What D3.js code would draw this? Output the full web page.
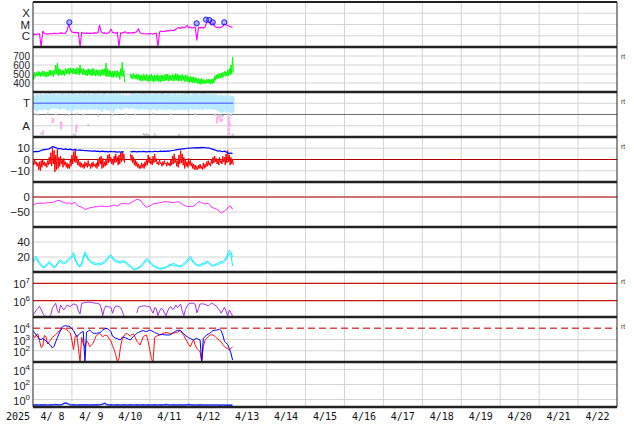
<!DOCTYPE html>
<html><head><meta charset="utf-8">
<script src="https://cdn.jsdelivr.net/npm/d3@7"></script>
<style>body{margin:0;background:#fff}svg{display:block}</style>
</head><body>
<svg id="c" width="634" height="424"></svg>
<script>
// ---------------- DATA (hourly from 4/8 00h) ----------------
const yearLabel = "2025";
const dayLabels = ["4/ 8","4/ 9","4/10","4/11","4/12","4/13","4/14","4/15","4/16","4/17","4/18","4/19","4/20","4/21","4/22"];

// Panel 1: X-ray flux (in units of 1e-6 W/m2 = C1)
const xrayTickLabels = ["X","M","C"];
const xrayTickVals = [100,10,1];
const xray = [1.3,1.4,1.3,1.4,1.5,0.1,2.6,1.6,1.5,1.4,
1.5,1.6,1.5,1.7,1.6,1.5,1.6,1.8,1.7,1.6,
1.7,3.0,11,3.5,2.2,1.9,2.0,1.8,1.9,0.1,
2.0,1.7,1.6,1.8,1.6,1.7,1.6,1.7,1.8,1.7,
1.9,9.0,2.2,1.7,1.8,1.6,1.7,1.9,4.0,2.0,
1.8,1.7,2.0,0.1,1.8,1.7,2.0,2.2,1.7,1.9,
1.7,1.9,1.8,2.0,2.4,4.2,1.8,1.6,1.5,1.5,
1.5,1.4,1.6,1.5,1.4,1.6,1.7,0.1,2.2,2.6,
2.3,2.7,2.4,2.9,2.6,3.2,2.8,3.0,3.8,4.6,
5.5,4.4,6.5,4.8,5.8,8.5,5.0,6.2,4.6,5.4,
6.0,0.4,5.5,4.8,5.8,4.6,6.0,14,24,12,
9.0,14,7.0,5.5,6.0,5.0,5.8,6.8,11,9.0,
8.0,7.0,6.2,5.4];
const flareHours = [22.4,100.9,106.7,108.7,110.8,117.9];
const flarePeak = [15.7,12.7,27,25,15.7,15.7];

// Panel 2: solar wind speed envelope (km/s)
const swTicks = [700,600,500,400];
const swHi = [500,520,515,530,525,520,535,530,520,525,
540,545,535,550,600,620,560,550,545,540,
560,555,565,570,560,565,555,570,560,600,
555,560,550,545,560,550,555,565,545,550,
545,540,550,555,560,620,555,540,535,530,
535,530,540,525,560,630,540,null,null,null,
500,495,505,490,500,495,490,485,495,490,
495,485,490,500,480,490,485,495,480,490,
485,490,500,495,490,485,495,490,505,495,
490,485,495,480,490,485,470,475,465,470,
460,455,450,445,450,440,435,440,445,440,
440,450,480,490,500,505,510,520,530,525,
540,560,600,690];
const swLo = [440,470,475,480,470,475,480,470,465,475,
480,490,470,495,500,480,490,485,490,480,
500,505,495,510,500,505,495,500,490,510,
490,495,485,480,490,485,480,490,475,485,
480,475,485,490,480,470,475,470,465,460,
470,460,470,440,480,470,410,null,null,null,
450,445,455,440,440,430,425,420,430,425,
420,415,425,420,410,425,420,415,410,420,
420,425,430,420,425,430,420,425,430,420,
425,420,430,415,420,410,405,410,400,405,
400,395,390,385,395,390,395,400,395,390,
395,400,430,445,450,455,460,470,480,475,
480,490,500,520];

// Panel 3: IMF longitude (deg)
const phiTickLabels = ["T","A"];
const phiTickVals = [270,90];
const phiHi = [330,338,344,334,346,340,336,348,342,338,
346,340,348,342,336,346,340,348,344,342,
340,348,342,336,346,348,342,338,348,344,
342,348,344,338,348,342,336,346,348,342,
346,338,348,342,346,336,342,348,338,346,
342,348,338,346,336,342,332,336,334,340,
338,346,348,342,338,348,344,340,348,344,
342,348,344,338,346,342,348,338,346,342,
346,338,342,348,344,338,342,346,336,342,
338,346,342,348,338,346,342,336,346,342,
348,342,338,346,342,348,338,346,342,338,
346,340,342,336,332,340,334,330,338,332,
334,328,332,326];
const phiLo = [222,210,205,215,220,212,218,225,215,210,
220,226,232,228,222,230,218,224,230,226,
215,210,220,206,212,218,224,214,220,216,
222,218,226,214,220,228,216,222,218,224,
212,220,200,218,224,214,210,222,216,190,
218,224,228,220,216,226,230,234,228,222,
226,232,220,224,218,214,222,226,218,224,
216,222,214,220,226,218,212,220,224,216,
222,214,218,224,216,222,210,218,214,220,
216,222,218,214,220,212,218,224,216,222,
218,224,216,220,214,222,226,218,224,220,
222,216,220,210,206,196,190,200,210,194,
198,192,188,196];
const phiGray = [[1,185],[3,180],[9,188],[14,182],[22,176],[27,186],[31,180],[40,172],[49,176],[57,184],[63,180],[74,186],[85,182],[100,184],[112,178],[114,170],[115,166],[116,172],[117,168],[120,180],[122,176],
[10,352],[18,354],[24,352],[37,354],[44,352],[61,354],[68,352],[80,354],[95,352],[105,354],
[5,28],[6,22],[25,20],[26,16],[68,24],[69,18],[70,22],[71,16],[75,20],[90,18],[121,24],[123,18],[34,96]];
const phiPink = [[6.2,42],[12.1,142],[12,120],[12.4,132],[17,114],[17.1,90],[17.3,72],[17.6,104],[26.5,72],[26.5,48],[27,88],
[113.3,152],[113.3,136],[113.3,120],[114.5,168],[115,150],[115.5,130],[116.5,140],[120.8,152],[120.8,130],[120.8,110],[120.8,90],[120.8,60],[120.8,30],[121.5,96]];

// Panel 4: IMF Bt and Bz (nT)
const bTicks = [10,0,-10];
const bt = [6.8,7.0,7.2,7.0,7.5,8.0,8.5,8.8,9.0,9.2,
9.5,10.5,11.4,11.0,10.5,10.0,9.5,9.8,9.2,9.0,
9.4,9.0,8.8,9.2,8.6,8.5,8.8,8.4,8.2,8.5,
8.0,8.2,7.8,8.0,7.6,7.8,7.5,7.4,7.6,7.2,
7.4,7.0,7.2,7.4,7.0,7.2,6.8,7.0,7.2,6.9,
7.0,6.8,6.6,6.9,6.5,6.8,6.7,null,null,null,
7.0,6.8,7.2,7.0,6.8,7.1,7.0,6.9,7.2,7.0,
6.8,7.0,7.2,6.9,7.0,7.3,7.1,7.0,7.2,7.4,
7.2,7.5,7.3,7.6,7.4,7.8,8.0,8.2,8.5,8.8,
9.0,9.2,9.5,9.4,9.8,10.0,10.2,10.0,10.4,10.2,
10.5,10.3,10.6,10.4,10.8,10.5,10.6,10.2,10.4,10.0,
9.5,9.0,8.5,8.0,7.5,7.8,7.2,7.0,7.4,6.8,
6.0,5.5,5.8,5.2];
const bzHi = [-1,0,-2,-3,-2,-1,0,-2,-3,-1,
2,6,10,8,4,9,2,3,0,1,
-2,-3,-4,0,4,7,8,3,0,-2,
-3,-4,-2,-3,-1,-4,-3,-2,-4,-3,
0,2,3,1,-2,0,4,5,2,0,
3,5,2,4,6,7,5,null,null,null,
5,4,2,0,-2,-4,-5,-3,-4,-2,
0,4,2,-1,3,5,1,-2,0,-3,
-2,-1,-3,-2,-3,0,3,5,1,-1,
4,8,5,2,0,-2,1,-1,-3,-4,
-5,-6,-5,-4,-6,-3,-4,-2,-1,-3,
0,2,3,1,0,2,-1,3,2,5,
8,4,2,0];
const bzLo = [-5,-4,-6,-9,-10,-7,-5,-6,-7,-5,
-4,-6,-4,-11,-9,-8,-6,-4,-7,-5,
-7,-8,-8,-6,-4,-2,-3,-5,-6,-7,
-7,-8,-6,-7,-6,-8,-7,-6,-7,-8,
-6,-4,-8,-7,-6,-5,-3,-2,-4,-5,
-3,-2,-5,-4,-2,-1,-3,null,null,null,
-1,-3,-5,-6,-7,-8,-8,-7,-8,-6,
-5,-3,-4,-5,-3,-2,-4,-5,-4,-6,
-5,-4,-6,-5,-6,-5,-4,-3,-6,-7,
-4,-3,-5,-8,-6,-7,-5,-6,-8,-9,
-9,-9,-8,-8,-9,-8,-7,-6,-5,-6,
-4,-3,-2,-4,-5,-3,-4,-2,-5,-3,
-2,-5,-4,-5];

// Panel 5: Dst (nT)
const dstTicks = [0,-50];
const dst = [-27,-24,-22,-21,-21,-20,-21,-20,-20,-19,
-19,-18,-18,-16,-14,-12,-11,-13,-16,-18,
-20,-21,-19,-22,-23,-20,-19,-24,-30,-32,
-34,-37,-41,-40,-38,-36,-35,-34,-33,-32,
-32,-31,-30,-31,-32,-32,-32,-31,-30,-28,
-27,-28,-30,-27,-23,-22,-21,-22,-23,-22,
-20,-17,-14,-11,-8,-9,-10,-17,-24,-30,
-34,-32,-30,-26,-23,-22,-21,-20,-19,-18,
-17,-16,-16,-16,-17,-18,-19,-18,-17,-16,
-16,-20,-24,-27,-30,-31,-32,-32,-32,-30,
-27,-22,-16,-17,-19,-21,-23,-22,-21,-27,
-34,-36,-38,-40,-43,-48,-54,-50,-47,-42,
-38,-30,-32,-41];

// Panel 6: two cyan traces
const p6Ticks = [40,20];
const cyanA = [16,19,21,16,12,10,8,7,9,12,
14,12,9,7,8,12,15,16,14,13,
14,16,18,19,22,26,18,13,10,8,
12,20,27,24,18,16,14,13,12,12,
11,12,12,13,14,16,19,22,23,20,
17,16,15,14,14,15,15,14,12,10,
9,6,4,4,5,6,8,10,12,15,
18,17,14,12,10,8,7,6,5,5,
6,6,7,8,10,10,11,11,10,9,
8,8,10,12,13,16,19,21,17,14,
12,10,9,10,11,12,13,14,14,12,
10,9,10,11,12,13,14,14,16,19,
24,29,27,20];
const cyanB = [13,16,18,14,10,8,6,6,7,10,
12,10,7,6,7,10,13,14,12,11,
12,13,15,17,19,22,16,11,8,7,
10,17,24,21,16,14,12,11,10,10,
9,10,10,11,12,14,17,20,20,18,
15,14,13,12,12,13,13,12,10,8,
7,5,3,3,4,5,6,8,10,13,
15,15,12,10,8,7,6,5,4,4,
5,5,6,7,8,9,9,9,8,8,
7,7,8,10,11,13,16,18,15,12,
10,9,8,8,9,10,11,12,12,10,
8,8,9,9,10,11,12,12,14,16,
20,25,24,8];

// Panel 7: electron flux (log10)
const eTickExp = [7,6];
const eFluxLog = [5.18,5.30,5.47,5.55,5.68,5.50,5.28,5.15,5.10,5.08,
5.08,5.20,5.60,5.72,5.85,5.45,5.30,5.75,5.60,5.47,
5.60,5.75,5.70,5.66,5.75,5.81,5.78,5.75,5.40,5.24,
5.85,5.87,5.89,5.90,5.91,5.91,5.90,5.88,5.86,5.85,
5.83,5.81,5.60,5.14,5.55,5.70,5.66,5.64,5.62,5.28,
5.55,5.70,5.68,5.66,5.60,5.40,5.12,null,null,null,
null,null,null,null,5.30,5.62,5.66,5.68,5.70,5.70,
5.68,5.66,5.66,5.45,5.28,5.60,5.55,5.14,5.40,5.56,
5.50,5.30,5.14,5.40,5.60,5.66,5.50,5.55,5.75,5.60,
5.70,5.81,5.40,5.14,5.50,5.70,5.82,5.85,5.86,5.85,
5.80,5.30,5.55,5.81,5.82,5.81,5.80,5.75,5.70,5.78,
5.85,5.82,5.75,5.70,5.56,5.45,5.28,5.45,5.62,5.40,
5.12,5.47,5.30,5.12];

// Panel 8: two particle fluxes (log10)
const pTickExp = [4,3,2];
const fluxBlueLog = [3.79,3.60,3.40,3.20,3.00,3.00,3.10,3.00,2.85,2.75,
2.60,2.45,2.25,2.40,2.80,3.15,3.50,3.80,4.10,4.20,
4.22,4.20,4.18,4.12,3.95,3.80,3.50,3.25,3.40,3.55,
3.65,3.70,1.0,3.65,3.75,3.84,3.70,3.55,3.55,3.55,
3.58,3.60,3.70,3.84,3.92,3.99,3.95,3.86,3.70,3.30,
3.20,3.12,3.08,3.00,2.98,3.20,3.22,3.15,3.10,3.00,
2.96,3.15,3.28,3.40,3.55,3.62,3.70,3.76,3.79,3.74,
3.70,3.78,3.84,3.78,3.70,3.62,3.56,3.50,3.42,3.44,
3.46,3.42,3.40,3.40,3.40,3.45,3.55,3.65,3.75,3.80,
3.84,3.80,3.62,3.50,3.35,3.25,3.15,3.10,3.00,2.96,
3.05,3.10,3.00,2.96,1.0,3.10,3.25,3.40,3.48,3.55,
3.70,3.79,3.82,3.84,3.86,3.90,3.78,3.40,2.85,2.70,
2.55,2.20,1.80,1.18];
const fluxRedLog = [3.40,3.15,3.40,3.50,2.90,2.30,2.40,3.35,3.25,2.60,
2.80,3.00,3.20,3.30,3.45,3.55,3.75,3.86,3.95,3.99,
3.92,3.84,3.72,3.58,2.90,2.10,3.25,3.40,2.20,1.0,
3.20,2.60,2.30,2.90,2.70,2.36,2.50,2.66,3.00,3.35,
3.45,3.55,3.40,3.25,3.35,3.40,3.30,3.05,2.90,2.45,
2.10,1.65,1.0,1.30,2.40,3.00,3.30,3.50,3.55,3.40,
3.31,3.45,3.49,3.20,2.85,2.70,2.51,2.90,3.25,3.35,
3.40,2.80,2.07,1.30,1.0,3.20,3.28,3.35,3.40,3.45,
3.55,3.58,3.61,3.60,3.55,3.55,3.55,3.58,3.61,3.65,
3.75,3.79,3.55,3.35,3.05,2.81,2.55,2.36,2.70,2.96,
2.50,2.21,2.05,1.92,1.0,2.40,2.90,3.10,3.25,3.40,
3.42,3.40,3.30,3.15,3.05,2.90,2.81,2.55,2.40,2.25,
2.20,2.07,2.20,2.36];

// Panel 9: high-energy flux
const hTickExp = [4,2,0];
const highFlux = [0.20,0.19,0.20,0.18,0.19,0.20,0.19,0.20,0.19,0.18,
0.19,0.20,0.19,0.20,0.21,0.20,0.19,0.20,0.22,0.30,
0.34,0.30,0.24,0.20,0.19,0.20,0.19,0.18,0.19,0.20,
0.19,0.20,0.19,0.20,0.19,0.18,0.19,0.20,0.19,0.20,
0.19,0.20,0.21,0.24,0.32,0.24,0.20,0.19,0.20,0.19,
0.18,0.19,0.20,0.19,0.18,0.19,0.20,0.19,0.18,0.19,
0.20,0.19,0.18,0.19,0.20,0.19,0.18,0.19,0.20,0.19,
0.19,0.20,0.19,0.18,0.19,0.20,0.19,0.18,0.19,0.20,
0.19,0.20,0.21,0.20,0.19,0.18,0.19,0.20,0.19,0.18,
0.19,0.20,0.19,0.18,0.19,0.20,0.21,0.20,0.19,0.18,
0.19,0.18,0.19,0.20,0.19,0.18,0.19,0.18,0.19,0.18,
0.18,0.19,0.18,0.19,0.18,0.17,0.18,0.19,0.18,0.17,
0.18,0.17,0.18,0.17];

// ---------------- DRAWING ----------------
const svg = d3.select("#c");
const L = 33, R = 617, TOP = 2, PH = 45, NP = 9;
const x = d3.scaleLinear().domain([0, 15*24]).range([L, R]);
const pTop = i => TOP + PH*i;
const lin = (i, dom) => d3.scaleLinear().domain(dom).range([pTop(i)+PH, pTop(i)]);
const lg = (i, dom) => d3.scaleLog().domain(dom).range([pTop(i)+PH, pTop(i)]).clamp(true);
const pw = v => v == null ? null : Math.pow(10, v);

const y1 = lg(0, [0.1, 1000]);
const y2 = lin(1, [300, 800]);
const y3 = lin(2, [0, 360]);
const y4 = lin(3, [-20, 20]);
const y5 = lin(4, [-100, 50]);
const y6 = lin(5, [0, 60]);
const y7 = lg(6, [Math.pow(10,5.063), Math.pow(10,7.649)]);
const y8 = lg(7, [10, 1e5]);
const y9 = lg(8, [0.1, 1e5]);

const GRID = "#d4d4d4";
const gGrid = svg.append("g");
const gData = svg.append("g");
const gTop = svg.append("g");

const defs = svg.append("defs");
for (let i = 0; i < NP; i++) {
  defs.append("clipPath").attr("id", "cp"+i).append("rect")
    .attr("x", L).attr("y", pTop(i)).attr("width", R-L).attr("height", PH);
}
const panelG = i => gData.append("g").attr("clip-path", `url(#cp${i})`);

d3.range(1, 15).forEach(d => {
  gGrid.append("line").attr("x1", x(d*24)).attr("x2", x(d*24))
    .attr("y1", TOP).attr("y2", pTop(NP)).attr("stroke", GRID).attr("stroke-width", 1);
});
function hline(g, y, color, w, dash) {
  const l = g.append("line").attr("x1", L).attr("x2", R).attr("y1", y).attr("y2", y)
    .attr("stroke", color).attr("stroke-width", w);
  if (dash) l.attr("stroke-dasharray", dash);
  return l;
}
xrayTickVals.forEach(v => hline(gGrid, y1(v), GRID, 1));
swTicks.forEach(v => hline(gGrid, y2(v), GRID, 1));
phiTickVals.forEach(v => hline(gGrid, y3(v), GRID, 1));
[10,-10].forEach(v => hline(gGrid, y4(v), GRID, 1));
[-50].forEach(v => hline(gGrid, y5(v), GRID, 1));
p6Ticks.forEach(v => hline(gGrid, y6(v), GRID, 1));
[3,2].forEach(e => hline(gGrid, y8(Math.pow(10,e)), GRID, 1));
hTickExp.forEach(e => hline(gGrid, y9(Math.pow(10,e)), GRID, 1));

hline(gGrid, y3(180), "#707070", 1.2);
hline(gGrid, y4(0), "#b00000", 1);
hline(gGrid, y5(0), "#d07070", 2);
eTickExp.forEach(e => hline(gGrid, y7(Math.pow(10,e)), "#cc1111", 1.3));
hline(gGrid, y8(1e4), "#d84a4a", 1.5, "7,4");

const series = arr => arr.map((v,i) => ({t:i, v}));
const zig = (hi, lo) => { const o = []; hi.forEach((h,i) => { o.push({t:i, v:h}); o.push({t:i+0.5, v:lo[i]}); }); return o; };
function path(g, pts, ys, color, w) {
  const ln = d3.line().defined(d => d.v != null).x(d => x(d.t)).y(d => ys(d.v));
  g.append("path").attr("d", ln(pts)).attr("fill", "none").attr("stroke", color)
    .attr("stroke-width", w).attr("stroke-linejoin", "round");
}

// Panel 1
const g1 = panelG(0);
path(g1, series(xray), y1, "#ff00ff", 1.1);
flareHours.forEach((h,i) => {
  g1.append("circle").attr("cx", x(h)).attr("cy", y1(flarePeak[i])).attr("r", 2.6)
    .attr("fill", "rgba(90,90,255,0.45)").attr("stroke", "#1a1aff").attr("stroke-width", 1);
});
// Panel 2
const g2 = panelG(1);
path(g2, zig(swHi, swLo), y2, "#00ff00", 1);
// Panel 3
const g3 = panelG(2);
phiGray.forEach(p => g3.append("rect").attr("x", x(p[0])-0.8).attr("y", y3(p[1])-1)
  .attr("width", 1.8).attr("height", 2).attr("fill", "#c8c8c8"));
phiHi.forEach((h,i) => g3.append("rect").attr("x", x(i)).attr("y", y3(h))
  .attr("width", x(i+1)-x(i)+0.3).attr("height", y3(phiLo[i]) - y3(h))
  .attr("fill", "#b6e9fd"));
phiPink.forEach(p => g3.append("rect").attr("x", x(p[0])-0.9).attr("y", y3(p[1])-1.5)
  .attr("width", 2).attr("height", 3).attr("fill", "#ffb0f0"));
g3.append("line").attr("x1", x(0)).attr("x2", x(phiHi.length-0.5)).attr("y1", y3(270)).attr("y2", y3(270))
  .attr("stroke", "#6680ff").attr("stroke-width", 1.5);
// Panel 4
const g4 = panelG(3);
path(g4, zig(bzHi, bzLo), y4, "#ff0000", 1);
path(g4, series(bt), y4, "#0000ff", 1.2);
// Panel 5
const g5 = panelG(4);
path(g5, series(dst), y5, "#ff22ff", 1);
// Panel 6
const g6 = panelG(5);
path(g6, series(cyanB), y6, "#10f0ff", 1);
path(g6, series(cyanA), y6, "#10f0ff", 1);
// Panel 7
const g7 = panelG(6);
path(g7, series(eFluxLog.map(pw)), y7, "#a030e0", 1);
// Panel 8
const g8 = panelG(7);
path(g8, series(fluxRedLog.map(pw)), y8, "#ff1010", 1);
path(g8, series(fluxBlueLog.map(pw)), y8, "#0000ff", 1);
// Panel 9
const g9 = panelG(8);
path(g9, series(highFlux), y9, "#2030ff", 1.5);

// frame & separators
d3.range(0, NP+1).forEach(k => hline(gTop, pTop(k), "#222", k === 0 ? 2 : 2.6));
gTop.append("line").attr("x1", L).attr("x2", L).attr("y1", TOP).attr("y2", pTop(NP)).attr("stroke", "#222").attr("stroke-width", 1);
gTop.append("line").attr("x1", R).attr("x2", R).attr("y1", TOP).attr("y2", pTop(NP)).attr("stroke", "#222").attr("stroke-width", 1);

// y labels
const FONT = "Liberation Sans, Arial, sans-serif";
function ylab(y, txt, fs) {
  fs = fs || 11.5;
  svg.append("text").attr("x", 30).attr("y", y + fs*0.35).attr("text-anchor", "end")
    .attr("font-family", FONT).attr("font-size", fs).attr("fill", "#222").text(txt);
}
function ylabExp(y, e) {
  const t = svg.append("text").attr("x", 30).attr("y", y + 5).attr("text-anchor", "end")
    .attr("font-family", FONT).attr("font-size", 11).attr("fill", "#222");
  t.append("tspan").text("10");
  t.append("tspan").attr("dy", -5).attr("font-size", 8).text(e);
}
xrayTickLabels.forEach((s,i) => ylab(y1(xrayTickVals[i]), s));
swTicks.forEach(v => ylab(y2(v), String(v), 10));
phiTickLabels.forEach((s,i) => ylab(y3(phiTickVals[i]), s));
bTicks.forEach(v => ylab(y4(v), String(v).replace("-", "\u2212")));
dstTicks.forEach(v => ylab(y5(v), String(v).replace("-", "\u2212")));
p6Ticks.forEach(v => ylab(y6(v), String(v)));
eTickExp.forEach(e => ylabExp(y7(Math.pow(10,e)), e));
pTickExp.forEach(e => ylabExp(y8(Math.pow(10,e)), e));
hTickExp.forEach(e => ylabExp(y9(Math.pow(10,e)), e));

// "rt" marks
[1,2,3,6,7].forEach(i => svg.append("text").attr("x", 621).attr("y", pTop(i) + 12)
  .attr("font-family", FONT).attr("font-size", 6.5).attr("fill", "#333").text("rt"));

// x labels
const MONO = "DejaVu Sans Mono, monospace";
svg.append("text").attr("x", 18).attr("y", 420).attr("text-anchor", "middle")
  .attr("font-family", MONO).attr("font-size", 10).attr("fill", "#111").text(yearLabel);
dayLabels.forEach((s,i) => svg.append("text").attr("x", x(i*24+12)).attr("y", 420)
  .attr("text-anchor", "middle").attr("font-family", MONO).attr("font-size", 10)
  .attr("fill", "#111").text(s));
</script>
</body></html>
